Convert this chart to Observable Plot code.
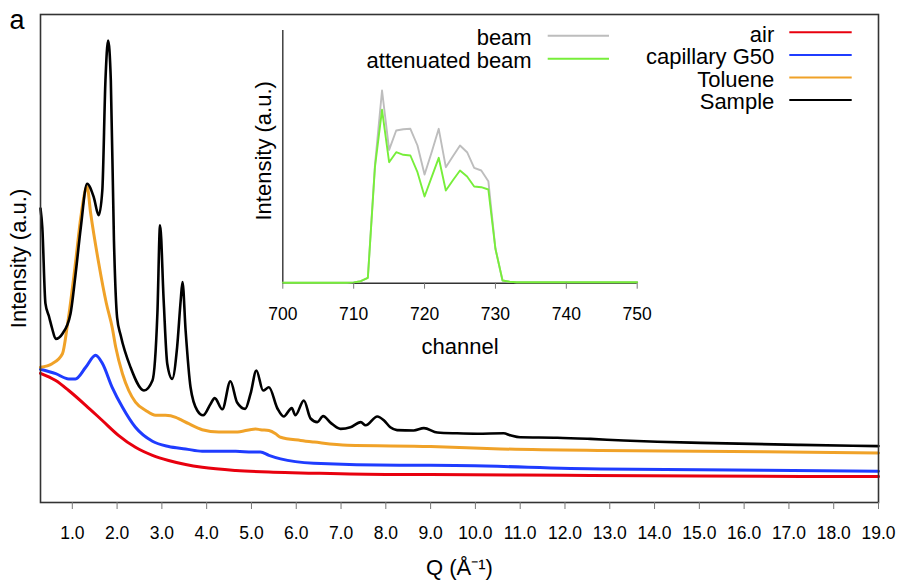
<!DOCTYPE html>
<html>
<head>
<meta charset="utf-8">
<script src="https://cdn.jsdelivr.net/npm/d3@7"></script>
<script src="https://cdn.jsdelivr.net/npm/@observablehq/plot@0.6"></script>
<style>
  body { margin: 0; background: #fff; }
  #chart { position: relative; width: 900px; height: 583px; }
  #chart svg { position: absolute; overflow: visible; background: transparent; }
  #chart svg [aria-label$="tick label"] { font-size: 17.5px !important; }
</style>
</head>
<body>
<div id="chart"></div>
<script>
// ---- Scattering curves: intensity (a.u.) against Q (Å⁻¹) ----
const airQ = [0.29,0.63,0.92,1.30,1.67,2.03,2.41,2.79,3.15,3.53,3.90,4.65,5.39,6.10,8.00,9.00,12.00,15.00,19.00];
const airI = [32.3,30.5,28.0,24.3,20.5,16.8,13.8,11.8,10.5,9.5,8.8,8.0,7.6,7.4,7.0,7.0,6.8,6.6,6.5];

const capillaryQ = [0.29,0.63,0.92,1.07,1.30,1.52,1.67,1.89,2.12,2.41,2.79,3.15,3.53,3.90,4.27,4.65,5.02,5.20,5.39,5.65,6.39,8.30,9.00,12.80,15.00,19.00];
const capillaryI = [33.3,32.2,30.9,30.9,33.8,36.8,34.8,28.8,23.8,18.8,15.3,14.0,13.4,12.8,12.8,12.8,12.6,12.6,11.8,10.9,9.8,9.3,9.3,8.4,8.2,7.8];

const tolueneQ = [0.29,0.55,0.78,0.89,1.07,1.19,1.30,1.33,1.41,1.59,1.76,1.89,1.97,2.12,2.26,2.41,2.64,2.86,3.08,3.31,3.42,3.60,3.90,4.27,4.65,5.09,5.20,5.39,5.54,5.65,6.10,6.40,7.14,9.00,10.56,12.80,15.00,19.00];
const tolueneI = [33.8,34.7,37.2,44.3,59.8,71.3,78.4,79.0,72.3,59.8,49.8,43.8,38.8,32.2,28.0,25.1,23.0,21.8,21.8,21.3,20.7,19.7,18.2,17.6,17.6,18.4,18.2,18.0,17.2,16.3,15.5,15.1,14.3,14.0,13.4,13.0,12.8,12.4];

const sampleQ = [0.29,0.33,0.40,0.48,0.55,0.63,0.78,0.96,1.07,1.19,1.33,1.48,1.59,1.67,1.74,1.80,1.86,1.93,2.00,2.08,2.30,2.60,2.79,2.90,2.96,3.04,3.12,3.23,3.34,3.42,3.46,3.53,3.64,3.79,3.92,4.09,4.18,4.35,4.53,4.68,4.86,4.98,5.11,5.26,5.39,5.58,5.72,5.90,5.98,6.17,6.32,6.47,6.60,6.77,6.99,7.21,7.44,7.55,7.81,7.96,8.10,8.25,8.62,8.85,9.15,9.59,10.04,10.63,10.78,11.00,11.83,12.57,13.31,14.06,15.03,17.26,19.00];
const sampleI = [73.5,68.8,49.8,46.5,43.5,40.9,42.2,47.2,56.8,68.8,79.7,76.3,71.8,78.0,105.5,115.5,105.5,65.5,46.3,41.8,33.8,28.0,30.5,47.3,69.3,50.5,34.7,30.9,38.8,50.5,55.1,43.0,28.8,23.0,21.8,24.7,26.1,23.3,30.3,25.0,23.4,27.2,33.0,28.0,28.8,23.5,21.5,23.6,21.8,25.5,21.0,20.1,21.6,19.9,18.4,18.8,20.1,19.3,21.5,20.5,18.8,18.1,18.0,18.6,17.5,17.3,17.2,17.3,16.8,16.3,16.2,15.9,15.5,15.2,14.9,14.4,14.1];

const seriesNames  = ["air", "capillary G50", "Toluene", "Sample"];
const seriesColors = ["#e8000e", "#1f3cff", "#f0a228", "#000000"];
const qTicks = [1,2,3,4,5,6,7,8,9,10,11,12,13,14,15,16,17,18,19];

// ---- Inset: detector beam profile against channel ----
const channels = d3.range(700, 751);
const beam = [
  0.5,0.5,0.5,0.5,0.5,0.5,0.5,0.5,0.5,0.5,
  0.8,2.0,5.4,118,192.7,133.4,152.7,154,154.4,137.7,
  108.7,131,154.4,116,127,137.7,131,115.4,112.7,102,
  34.4,2.7,1.5,1,1,1,1,1,1,1,
  1,1,1,1,1,1,1,1,1,1,
  1
];
const attenuated = [
  0.5,0.5,0.5,0.5,0.5,0.5,0.5,0.5,0.5,0.5,
  0.8,2.0,5.4,116,173.4,121,131,128.4,127.7,111,
  86.7,106,125.4,92.7,103,112.7,106.7,96.7,96,93.7,
  34.4,2.7,1.5,1,1,1,1,1,1,1,
  1,1,1,1,1,1,1,1,1,1,
  1
];
const insetNames  = ["beam", "attenuated beam"];
const insetColors = ["#bdbdbd", "#77ee3a"];
const channelTicks = [700,710,720,730,740,750];

const FONT = '"Liberation Sans", Arial, Helvetica, sans-serif';

const toRows = (qs, vs) => qs.map((q, i) => ({q, v: vs[i]}));
const mainSeries = [
  {rows: toRows(airQ, airI), width: 3},
  {rows: toRows(capillaryQ, capillaryI), width: 3},
  {rows: toRows(tolueneQ, tolueneI), width: 3},
  {rows: toRows(sampleQ, sampleI), width: 2.6}
];

function addLegend(svg, names, colors, o) {
  const g = d3.select(svg).append("g")
    .attr("font-family", FONT)
    .attr("font-size", o.fontSize);
  names.forEach((name, i) => {
    const y = o.top + i * o.step;
    g.append("text")
      .attr("x", o.right).attr("y", y).attr("dy", "0.42em")
      .attr("text-anchor", "end").attr("fill", "#000")
      .text(name);
    g.append("line")
      .attr("x1", o.x1).attr("x2", o.x2).attr("y1", y).attr("y2", y)
      .attr("stroke", colors[i]).attr("stroke-width", 2);
  });
}

// ---- Main panel ----
const main = Plot.plot({
  width: 900,
  height: 583,
  marginLeft: 40,
  marginRight: 22,
  marginTop: 14,
  marginBottom: 81,
  style: {fontFamily: FONT, fontSize: "17.5px", background: "transparent"},
  x: {domain: [0.29, 19], label: null},
  y: {domain: [0, 122], axis: null},
  marks: [
    ...mainSeries.map((s, i) => Plot.line(s.rows, {
      x: "q", y: "v", stroke: seriesColors[i], strokeWidth: s.width, curve: "monotone-x"
    })),
    Plot.frame({stroke: "#333", strokeWidth: 1.6}),
    Plot.axisX(qTicks, {
      tickSize: 7, tickPadding: 17, tickFormat: d => d.toFixed(1),
      stroke: "#777", fill: "#000", fontSize: 17.5, label: null
    }),
    Plot.text(["Q (Å⁻¹)"], {text: d => d, frameAnchor: "bottom", lineAnchor: "middle", dy: 65, fontSize: 22, fill: "#000"}),
    Plot.text(["Intensity (a.u.)"], {text: d => d, frameAnchor: "left", textAnchor: "middle", lineAnchor: "middle", dx: -22, rotate: -90, fontSize: 22, fill: "#000"}),
    Plot.text(["a"], {text: d => d, frameAnchor: "top-left", textAnchor: "start", lineAnchor: "middle", dx: -31, dy: 6, fontSize: 27, fill: "#000"})
  ]
});
main.style.left = "0px";
main.style.top = "0px";
addLegend(main, seriesNames, seriesColors, {right: 774.3, x1: 789.3, x2: 851.7, top: 32.3, step: 22.6, fontSize: 22});

// ---- Inset panel ----
const insetRows = [
  channels.map((c, i) => ({c, v: beam[i]})),
  channels.map((c, i) => ({c, v: attenuated[i]}))
];
const inset = Plot.plot({
  width: 460,
  height: 370,
  marginLeft: 82.3,
  marginRight: 23.3,
  marginTop: 30,
  marginBottom: 87.3,
  style: {fontFamily: FONT, fontSize: "17.5px", background: "transparent"},
  x: {domain: [700, 750], label: null},
  y: {domain: [0, 252.7], axis: null},
  marks: [
    Plot.ruleY([0], {stroke: "#333", strokeWidth: 1.4}),
    Plot.ruleX([700], {stroke: "#333", strokeWidth: 1.4}),
    ...insetRows.map((rows, i) => Plot.line(rows, {
      x: "c", y: "v", stroke: insetColors[i], strokeWidth: 1.9
    })),
    Plot.axisX(channelTicks, {
      tickSize: 6, tickPadding: 18, stroke: "#777", fill: "#000", fontSize: 17.5, label: null
    }),
    Plot.text(["channel"], {text: d => d, frameAnchor: "bottom", lineAnchor: "middle", dy: 64, fontSize: 22, fill: "#000"}),
    Plot.text(["Intensity (a.u.)"], {text: d => d, frameAnchor: "left", textAnchor: "middle", lineAnchor: "middle", dx: -19, dy: -6, rotate: -90, fontSize: 22, fill: "#000"})
  ]
});
inset.style.left = "200px";
inset.style.top = "0px";
addLegend(inset, insetNames, insetColors, {right: 331.7, x1: 347.7, x2: 409, top: 35.7, step: 23, fontSize: 22});

const chart = document.getElementById("chart");
chart.appendChild(main);
chart.appendChild(inset);
</script>
</body>
</html>
